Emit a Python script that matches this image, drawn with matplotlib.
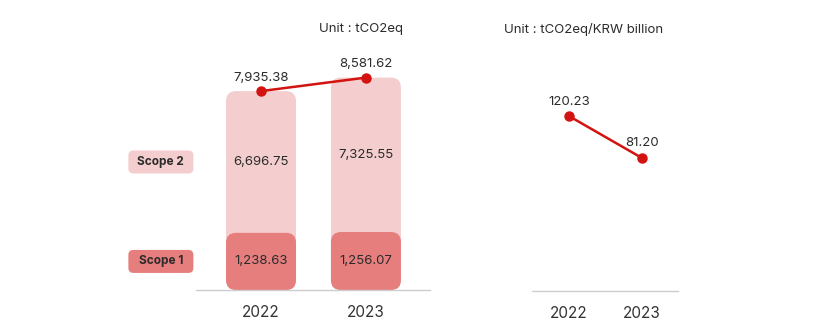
import numpy as np
import matplotlib
matplotlib.use('Agg')
import matplotlib.pyplot as plt
from matplotlib.patches import FancyBboxPatch
from matplotlib.transforms import IdentityTransform

plt.rcParams['font.family'] = ['Inter', 'DejaVu Sans']

# data
years = ['2022', '2023']
scope1 = [1238.63, 1256.07]
scope2 = [6696.75, 7325.55]
total = [7935.38, 8581.62]
intensity = [120.23, 81.20]

red = '#d3130f'
c_s1 = '#e67e7d'
c_s2 = '#f4cdce'
txt = '#2b2b2b'

fig = plt.figure(figsize=(8.3, 3.35), dpi=100)
ax = fig.add_axes([0.2361, 0.1343, 0.2819, 0.7463])
ax2 = fig.add_axes([0.641, 0.1313, 0.176, 0.749])

# the original draws scope 1 taller than its share -> two piece linear y scale
BRK = 1300.0
def fwd(v):
    v = np.asarray(v, dtype=float)
    return np.where(v <= BRK, v * 60 / BRK, 60 + (v - BRK) * 155 / 7405)

def inv(u):
    u = np.asarray(u, dtype=float)
    return np.where(u <= 60, u * BRK / 60, BRK + (u - 60) * 7405 / 155)

ax.set_yscale('function', functions=(fwd, inv))
ax.set_ylim(0, float(inv(250)))
ax.set_xlim(-0.62, 1.61)

x = np.arange(len(years))
w = 0.667


def rbox(a, x0, y0, x1, y1, color, z, r):
    # rounded box given in pixels
    p = FancyBboxPatch((x0, y0), x1 - x0, y1 - y0,
                       boxstyle=f'round,pad=0,rounding_size={r}',
                       fc=color, ec='none', transform=IdentityTransform(),
                       zorder=z, clip_on=False)
    a.add_artist(p)


def rbar(a, xc, h, color, z):
    x0, y0 = a.transData.transform((xc - w / 2, 0))
    x1, y1 = a.transData.transform((xc + w / 2, h))
    rbox(a, x0, y0, x1, y1, color, z, 10)


for i in x:
    rbar(ax, i, total[i], c_s2, 1)
    rbar(ax, i, scope1[i], c_s1, 2)
    m2 = float(inv((fwd(scope1[i]) + fwd(total[i])) / 2))
    m1 = float(inv(fwd(scope1[i]) / 2))
    ax.text(i, m2, f'{scope2[i]:,.2f}', ha='center', va='center',
            fontsize=9.5, color=txt, zorder=4)
    ax.text(i, m1, f'{scope1[i]:,.2f}', ha='center', va='center',
            fontsize=9.5, color=txt, zorder=4)

ax.plot(x, total, color=red, lw=1.8, marker='o', ms=6.5, zorder=5, clip_on=False)
for i in x:
    ax.annotate(f'{total[i]:,.2f}', (i, total[i]), xytext=(0, 9.5),
                textcoords='offset points', ha='center', va='center',
                fontsize=9.5, color=txt)

# scope tags on the left, lined up with the 2022 labels
ytr = ax.get_yaxis_transform()
tags = [('Scope 2', float(inv((fwd(scope1[0]) + fwd(total[0])) / 2)), c_s2),
        ('Scope 1', float(inv(fwd(scope1[0]) / 2)), c_s1)]
for name, ym, col in tags:
    ax.text(-0.15, ym, name, transform=ytr, ha='center', va='center',
            fontsize=8.5, fontweight='bold', color=txt, zorder=4, clip_on=False)
    cx, cy = ytr.transform((-0.15, ym))
    rbox(ax, cx - 32.5, cy - 11.5, cx + 32.5, cy + 11.5, col, 3, 5)

# intensity chart
ax2.plot(x, intensity, color=red, lw=1.8, marker='o', ms=6.5, zorder=5, clip_on=False)
for i in x:
    ax2.annotate(f'{intensity[i]:.2f}', (i, intensity[i]), xytext=(0, 10.5),
                 textcoords='offset points', ha='center', va='center',
                 fontsize=9.5, color=txt)
ax2.set_ylim(-42.4, 190.9)
ax2.set_xlim(-0.507, 1.493)

for a in (ax, ax2):
    a.set_xticks(x, years, fontsize=11, color='#333333')
    a.set_yticks([])
    a.set_yticks([], minor=True)
    a.tick_params(axis='x', length=0, pad=11)
    for s in ('left', 'right', 'top'):
        a.spines[s].set_visible(False)
    a.spines['bottom'].set_color('#cccccc')
    a.spines['bottom'].set_linewidth(1)
    a.patch.set_alpha(0)

fig.text(403 / 830, 1 - 29 / 335, 'Unit : tCO2eq', ha='right', va='center',
         fontsize=9.5, color=txt)
fig.text(663 / 830, 1 - 29 / 335, 'Unit : tCO2eq/KRW billion', ha='right',
         va='center', fontsize=9.5, color=txt)

fig.savefig('out.png', dpi=100)
